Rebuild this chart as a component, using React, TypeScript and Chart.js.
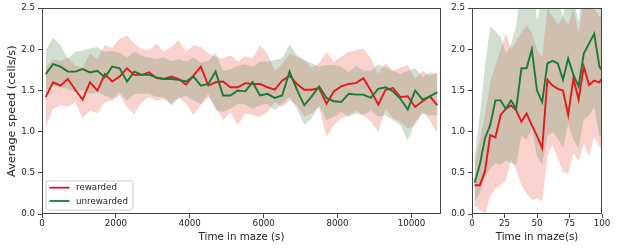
import React, { useEffect, useRef } from "react";
import { Chart, registerables } from "chart.js";

Chart.register(...registerables);

// ---------- data ----------
const leftTime = [100, 300, 500, 700, 900, 1100, 1300, 1500, 1700, 1900, 2100, 2300, 2500, 2700, 2900, 3100, 3300, 3500, 3700, 3900, 4100, 4300, 4500, 4700, 4900, 5100, 5300, 5500, 5700, 5900, 6100, 6300, 6500, 6700, 6900, 7100, 7300, 7500, 7700, 7900, 8100, 8300, 8500, 8700, 8900, 9100, 9300, 9500, 9700, 9900, 10100, 10300, 10500, 10700];
const leftRewarded = [1.42, 1.60, 1.56, 1.64, 1.51, 1.39, 1.60, 1.50, 1.70, 1.61, 1.67, 1.77, 1.69, 1.69, 1.72, 1.65, 1.64, 1.67, 1.64, 1.57, 1.68, 1.79, 1.56, 1.60, 1.61, 1.54, 1.54, 1.59, 1.58, 1.58, 1.54, 1.51, 1.62, 1.68, 1.58, 1.51, 1.51, 1.53, 1.34, 1.49, 1.55, 1.58, 1.59, 1.65, 1.50, 1.33, 1.51, 1.53, 1.42, 1.43, 1.30, 1.37, 1.43, 1.32];
const leftUnrewarded = [1.70, 1.82, 1.79, 1.73, 1.73, 1.76, 1.72, 1.74, 1.66, 1.79, 1.77, 1.61, 1.73, 1.69, 1.69, 1.66, 1.64, 1.64, 1.63, 1.61, 1.67, 1.56, 1.58, 1.73, 1.44, 1.44, 1.50, 1.49, 1.60, 1.44, 1.46, 1.41, 1.44, 1.73, 1.51, 1.32, 1.43, 1.55, 1.41, 1.37, 1.36, 1.46, 1.45, 1.45, 1.41, 1.52, 1.54, 1.49, 1.40, 1.27, 1.50, 1.39, 1.43, 1.48];
const leftRewardedUpper = [1.78, 1.88, 1.86, 1.90, 1.80, 1.78, 1.95, 1.88, 2.05, 2.02, 2.13, 2.17, 2.07, 2.00, 1.99, 2.07, 1.97, 2.03, 2.11, 1.97, 2.05, 2.03, 1.95, 1.91, 1.89, 1.93, 1.85, 1.92, 1.89, 2.05, 1.95, 1.74, 1.82, 1.95, 1.91, 1.87, 1.77, 1.83, 1.97, 1.85, 1.91, 1.97, 1.99, 2.01, 1.89, 1.70, 1.83, 1.74, 1.78, 1.81, 1.64, 1.74, 1.68, 1.72];
const leftRewardedLower = [1.06, 1.28, 1.32, 1.30, 1.36, 1.16, 1.26, 1.22, 1.36, 1.38, 1.44, 1.30, 1.21, 1.36, 1.42, 1.38, 1.40, 1.34, 1.42, 1.34, 1.20, 1.32, 1.42, 1.30, 1.14, 1.24, 1.08, 1.22, 1.20, 1.18, 1.24, 1.36, 1.30, 1.38, 1.32, 1.18, 1.22, 1.30, 0.94, 1.08, 1.16, 1.20, 1.26, 1.20, 1.12, 1.00, 1.28, 1.16, 1.12, 1.04, 1.08, 1.24, 1.14, 0.98];
const leftUnrewardedUpper = [1.99, 2.14, 2.05, 1.89, 1.97, 1.99, 2.01, 2.03, 1.97, 1.98, 1.96, 1.90, 1.97, 1.92, 1.90, 1.88, 1.90, 1.86, 1.88, 1.85, 1.90, 1.84, 1.86, 1.96, 1.74, 1.76, 1.80, 1.82, 1.79, 1.85, 1.85, 1.87, 1.89, 2.06, 1.93, 1.87, 1.83, 1.79, 1.81, 1.81, 1.79, 1.72, 1.80, 1.74, 1.74, 1.82, 1.78, 1.74, 1.70, 1.74, 1.77, 1.66, 1.72, 1.70];
const leftUnrewardedLower = [1.46, 1.56, 1.54, 1.52, 1.48, 1.50, 1.46, 1.48, 1.44, 1.40, 1.48, 1.38, 1.46, 1.46, 1.46, 1.42, 1.42, 1.32, 1.40, 1.44, 1.38, 1.34, 1.46, 1.26, 1.24, 1.28, 1.34, 1.33, 1.28, 1.32, 1.34, 1.26, 1.34, 1.42, 1.28, 1.08, 1.16, 1.32, 1.14, 1.18, 1.24, 1.18, 1.22, 1.20, 1.26, 1.18, 1.20, 1.14, 1.08, 0.89, 1.12, 1.22, 1.20, 1.20];

const rightTime = [2, 6, 10, 14, 18, 22, 26, 30, 34, 38, 42, 46, 50, 54, 58, 62, 66, 70, 74, 78, 82, 86, 90, 94, 98, 102];
const rightRewarded = [0.35, 0.35, 0.52, 0.96, 0.93, 1.20, 1.28, 1.32, 1.26, 1.12, 1.22, 1.08, 0.95, 0.80, 1.63, 1.56, 1.52, 1.50, 1.20, 1.65, 1.39, 1.79, 1.57, 1.62, 1.60, 1.70];
const rightUnrewarded = [0.38, 0.60, 0.92, 1.08, 1.38, 1.38, 1.28, 1.38, 1.28, 1.77, 1.77, 2.00, 1.50, 1.36, 1.83, 1.86, 1.83, 1.63, 1.89, 1.69, 1.55, 1.95, 2.07, 2.19, 1.79, 1.70];
const rightRewardedUpper = [0.60, 0.90, 1.20, 1.60, 1.80, 2.00, 2.20, 2.00, 2.10, 2.20, 2.30, 2.20, 2.00, 1.90, 2.50, 2.40, 2.30, 2.40, 2.30, 2.50, 2.20, 2.60, 2.50, 2.50, 2.40, 2.40];
const rightRewardedLower = [0.10, 0.05, 0.00, 0.21, 0.31, 0.35, 0.40, 0.66, 0.53, 0.35, 0.25, 0.17, 0.19, 0.15, 0.70, 0.84, 0.67, 0.51, 0.49, 0.74, 0.64, 0.86, 0.70, 0.94, 0.82, 0.75];
const rightUnrewardedUpper = [0.70, 1.20, 1.80, 2.28, 2.22, 2.15, 1.95, 2.05, 2.30, 2.80, 2.60, 2.90, 2.35, 2.60, 2.80, 2.70, 2.60, 2.40, 2.90, 2.60, 2.35, 2.80, 2.90, 3.00, 2.60, 2.50];
const rightUnrewardedLower = [0.15, 0.25, 0.45, 0.55, 0.62, 0.60, 0.65, 0.62, 0.60, 0.95, 0.90, 1.05, 0.70, 0.60, 0.95, 1.00, 0.92, 0.80, 1.10, 0.90, 0.80, 1.15, 1.20, 1.30, 0.95, 0.90];

const yTicks = [0, 0.5, 1.0, 1.5, 2.0, 2.5];
const leftXTicks = [0, 2000, 4000, 6000, 8000, 10000];
const rightXTicks = [0, 25, 50, 75, 100];
const seriesLabels = ["rewarded", "unrewarded"];

// ---------- styles ----------
const FONT = "'DejaVu Sans', sans-serif";
const RED = "#e3191c";
const GREEN = "#1a7a36";
const RED_FILL = "rgba(238,105,90,0.3)";
const GREEN_FILL = "rgba(90,140,95,0.28)";
const AXIS = "#444444";
const TEXT = "#222222";

const zip = (xs: number[], ys: number[]) => xs.map((x, i) => ({ x, y: ys[i] }));

const framePlugin = {
  id: "frame",
  afterDraw(chart: any) {
    const { ctx, chartArea: a } = chart;
    ctx.save();
    ctx.strokeStyle = AXIS;
    ctx.lineWidth = 1;
    ctx.strokeRect(Math.round(a.left) + 0.5, Math.round(a.top) + 0.5, Math.round(a.right - a.left) - 1, Math.round(a.bottom - a.top) - 1);
    ctx.restore();
  },
};

const legendPlugin = {
  id: "boxLegend",
  afterDraw(chart: any) {
    const { ctx, chartArea: a } = chart;
    const x = a.left + 4;
    const y = a.bottom - 33;
    const w = 87;
    const h = 29;
    const r = 2.5;
    ctx.save();
    ctx.beginPath();
    ctx.moveTo(x + r, y);
    ctx.lineTo(x + w - r, y);
    ctx.quadraticCurveTo(x + w, y, x + w, y + r);
    ctx.lineTo(x + w, y + h - r);
    ctx.quadraticCurveTo(x + w, y + h, x + w - r, y + h);
    ctx.lineTo(x + r, y + h);
    ctx.quadraticCurveTo(x, y + h, x, y + h - r);
    ctx.lineTo(x, y + r);
    ctx.quadraticCurveTo(x, y, x + r, y);
    ctx.closePath();
    ctx.fillStyle = "rgba(255,255,255,0.85)";
    ctx.fill();
    ctx.strokeStyle = "#cccccc";
    ctx.lineWidth = 1;
    ctx.stroke();
    const rows = [
      { label: seriesLabels[0], color: RED, yy: y + 6.7 },
      { label: seriesLabels[1], color: GREEN, yy: y + 20 },
    ];
    ctx.font = `8.7px ${FONT}`;
    ctx.textBaseline = "middle";
    ctx.textAlign = "left";
    for (const row of rows) {
      ctx.beginPath();
      ctx.strokeStyle = row.color;
      ctx.lineWidth = 1.8;
      ctx.moveTo(x + 3.5, row.yy);
      ctx.lineTo(x + 23.5, row.yy);
      ctx.stroke();
      ctx.fillStyle = TEXT;
      ctx.fillText(row.label, x + 30, row.yy + 0.5);
    }
    ctx.restore();
  },
};

function buildConfig(opts: {
  time: number[];
  red: number[];
  green: number[];
  redUp: number[];
  redLo: number[];
  greenUp: number[];
  greenLo: number[];
  xMax: number;
  xTicks: number[];
  xTitle: string;
  yTitle: string;
  yWidth: number;
  rightPad: number;
  legend: boolean;
}) {
  const band = (data: number[], fill: any, color: string) => ({
    data: zip(opts.time, data),
    borderColor: "transparent",
    borderWidth: 0,
    pointRadius: 0,
    backgroundColor: color,
    fill,
    tension: 0,
  });
  return {
    type: "line" as const,
    data: {
      datasets: [
        { label: seriesLabels[1], data: zip(opts.time, opts.green), borderColor: GREEN, borderWidth: 1.9, pointRadius: 0, fill: false, tension: 0 },
        { label: seriesLabels[0], data: zip(opts.time, opts.red), borderColor: RED, borderWidth: 1.9, pointRadius: 0, fill: false, tension: 0 },
        band(opts.greenUp, "+1", GREEN_FILL),
        band(opts.greenLo, false, "transparent"),
        band(opts.redUp, "+1", RED_FILL),
        band(opts.redLo, false, "transparent"),
      ],
    },
    options: {
      animation: false as const,
      responsive: false,
      devicePixelRatio: 1,
      events: [],
      layout: { padding: { top: 8, right: opts.rightPad, left: 0, bottom: 0 } },
      plugins: { legend: { display: false }, tooltip: { enabled: false } },
      scales: {
        x: {
          type: "linear" as const,
          min: 0,
          max: opts.xMax,
          afterBuildTicks: (s: any) => {
            s.ticks = opts.xTicks.map((v) => ({ value: v }));
          },
          afterFit: (s: any) => {
            s.height = 35;
          },
          grid: { drawOnChartArea: false, drawTicks: true, tickLength: 4, color: AXIS, lineWidth: 1 },
          border: { display: false },
          ticks: { color: TEXT, font: { family: FONT, size: 8.7 }, padding: 1, maxRotation: 0, autoSkip: false, callback: (v: any) => String(v) },
          title: { display: true, text: opts.xTitle, color: TEXT, font: { family: FONT, size: 10.3 }, padding: { top: 0, bottom: 5 } },
        },
        y: {
          type: "linear" as const,
          min: 0,
          max: 2.5,
          afterBuildTicks: (s: any) => {
            s.ticks = yTicks.map((v) => ({ value: v }));
          },
          afterFit: (s: any) => {
            s.width = opts.yWidth;
          },
          grid: { drawOnChartArea: false, drawTicks: true, tickLength: 4, color: AXIS, lineWidth: 1 },
          border: { display: false },
          ticks: { color: TEXT, font: { family: FONT, size: 8.7 }, padding: 3, autoSkip: false, callback: (v: any) => Number(v).toFixed(1) },
          title: { display: opts.yTitle !== "", text: opts.yTitle, color: TEXT, font: { family: FONT, size: 11.3 }, padding: { top: 5, bottom: 0 } },
        },
      },
    },
    plugins: opts.legend ? [framePlugin, legendPlugin] : [framePlugin],
  };
}

export default function App() {
  const leftRef = useRef<HTMLCanvasElement | null>(null);
  const rightRef = useRef<HTMLCanvasElement | null>(null);

  useEffect(() => {
    const left = new Chart(
      leftRef.current as HTMLCanvasElement,
      buildConfig({
        time: leftTime,
        red: leftRewarded,
        green: leftUnrewarded,
        redUp: leftRewardedUpper,
        redLo: leftRewardedLower,
        greenUp: leftUnrewardedUpper,
        greenLo: leftUnrewardedLower,
        xMax: 10800,
        xTicks: leftXTicks,
        xTitle: "Time in maze (s)",
        yTitle: "Average speed (cells/s)",
        yWidth: 42,
        rightPad: 14,
        legend: true,
      }) as any
    );
    const right = new Chart(
      rightRef.current as HTMLCanvasElement,
      buildConfig({
        time: rightTime,
        red: rightRewarded,
        green: rightUnrewarded,
        redUp: rightRewardedUpper,
        redLo: rightRewardedLower,
        greenUp: rightUnrewardedUpper,
        greenLo: rightUnrewardedLower,
        xMax: 100,
        xTicks: rightXTicks,
        xTitle: "Time in maze(s)",
        yTitle: "",
        yWidth: 27,
        rightPad: 15,
        legend: false,
      }) as any
    );
    return () => {
      left.destroy();
      right.destroy();
    };
  }, []);

  return (
    <div style={{ position: "absolute", left: 0, top: 0, width: 617, height: 249, background: "#ffffff", overflow: "hidden" }}>
      <canvas ref={leftRef} width={455} height={249} style={{ position: "absolute", left: 0, top: 0, width: 455, height: 249 }} />
      <canvas ref={rightRef} width={172} height={249} style={{ position: "absolute", left: 445, top: 0, width: 172, height: 249 }} />
    </div>
  );
}
